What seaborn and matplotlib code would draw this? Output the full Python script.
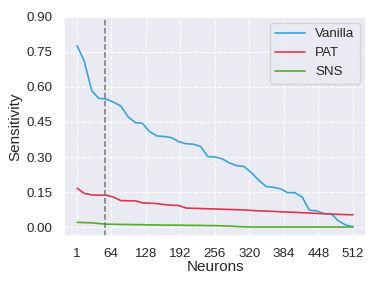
import numpy as np
import pandas as pd
import matplotlib
matplotlib.use("Agg")
import matplotlib.pyplot as plt
import seaborn as sns

neurons = [1, 14, 28, 41, 55, 68, 82, 95, 109, 122, 135, 149, 162, 176, 189, 203,
           216, 230, 243, 257, 270, 283, 297, 310, 324, 337, 351, 364, 378, 391,
           404, 418, 431, 445, 458, 472, 485, 499, 512]
vanilla = [0.776, 0.711, 0.584, 0.551, 0.548, 0.535, 0.518, 0.473, 0.447, 0.444,
           0.409, 0.390, 0.388, 0.383, 0.366, 0.357, 0.355, 0.345, 0.302, 0.300,
           0.292, 0.275, 0.263, 0.260, 0.233, 0.202, 0.174, 0.171, 0.164, 0.148,
           0.148, 0.129, 0.073, 0.070, 0.058, 0.057, 0.027, 0.009, 0.003]
pat = [0.167, 0.145, 0.138, 0.137, 0.137, 0.129, 0.114, 0.113, 0.113, 0.104,
       0.103, 0.101, 0.097, 0.094, 0.093, 0.082, 0.081, 0.080, 0.079, 0.078,
       0.077, 0.076, 0.075, 0.074, 0.072, 0.070, 0.069, 0.068, 0.066, 0.065,
       0.064, 0.062, 0.061, 0.059, 0.058, 0.056, 0.055, 0.054, 0.053]
sns_vals = [0.021, 0.020, 0.019, 0.016, 0.013, 0.013, 0.012, 0.012, 0.011, 0.011,
            0.010, 0.010, 0.009, 0.009, 0.009, 0.008, 0.008, 0.008, 0.007, 0.007,
            0.006, 0.005, 0.003, 0.002, 0.001, 0.001, 0.001, 0.001, 0.001, 0.001,
            0.001, 0.001, 0.001, 0.001, 0.001, 0.001, 0.001, 0.001, 0.001]
series_names = ["Vanilla", "PAT", "SNS"]
xticks = [1, 64, 128, 192, 256, 320, 384, 448, 512]
yticks = [0.00, 0.15, 0.30, 0.45, 0.60, 0.75, 0.90]
cut_neuron = 53

df = pd.DataFrame({
    "Neurons": neurons * 3,
    "Sensitivity": vanilla + pat + sns_vals,
    "Method": sum([[n] * len(neurons) for n in series_names], []),
})

sns.set_theme(style="darkgrid", rc={"grid.linestyle": "--", "grid.linewidth": 0.8})
plt.rcParams["font.family"] = ["Liberation Sans", "DejaVu Sans"]

fig = plt.figure(figsize=(3.82, 2.87), dpi=100)
ax = fig.add_axes([0.168, 0.178, 0.790, 0.764])
palette = {"Vanilla": "#3aa4da", "PAT": "#e0364f", "SNS": "#52ae28"}
sns.lineplot(data=df, x="Neurons", y="Sensitivity", hue="Method", palette=palette,
             linewidth=1.2, ax=ax)
ax.axvline(cut_neuron, color="#777777", linestyle="--", linewidth=1.1)
ax.set_xticks(xticks)
ax.set_yticks(yticks)
ax.set_yticklabels([f"{v:.2f}" for v in yticks])
ax.set_xlim(-23, 536)
ax.set_ylim(-0.037, 0.90)
ax.tick_params(labelsize=9.6, pad=2.5)
ax.set_xlabel("Neurons", fontsize=11, labelpad=0)
ax.set_ylabel("Sensitivity", fontsize=11, labelpad=3)
leg = ax.legend(loc="upper right", fontsize=9.6, frameon=True, handlelength=2.2,
                borderaxespad=0.45)
leg.set_title(None)
fig.savefig("out.png", dpi=100)
